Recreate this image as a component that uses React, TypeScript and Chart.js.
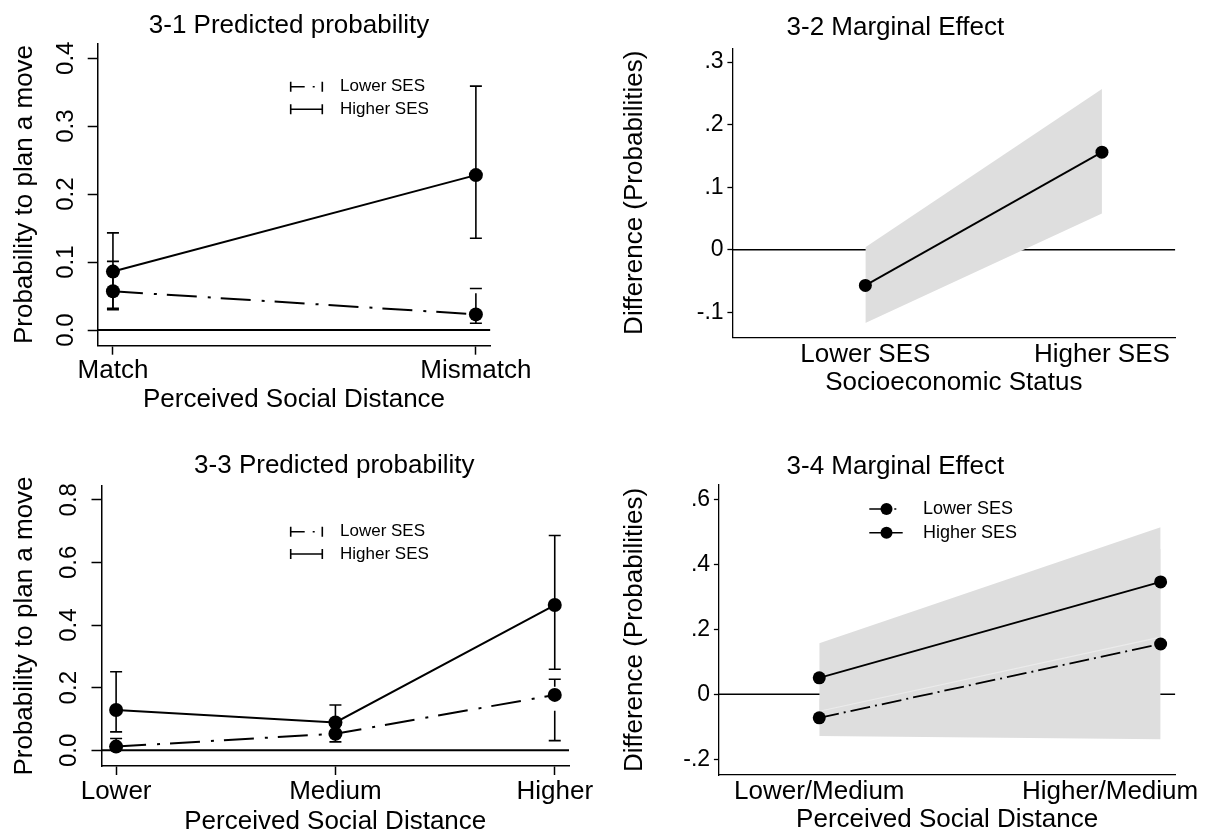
import React, { useEffect, useRef } from 'react';
import { Chart, registerables } from 'chart.js';

Chart.register(...registerables);

const FONT = "'Liberation Sans', Arial, Helvetica, sans-serif";
const BLACK = '#000000';
const BAND = '#dedede';

// ---------------- data ----------------
const seriesLabels = ['Lower SES', 'Higher SES'];

// 3-1
const p1Title = '3-1 Predicted probability';
const p1XTitle = 'Perceived Social Distance';
const p1YTitle = 'Probability to plan a move';
const p1Categories = ['Match', 'Mismatch'];
const p1YTicks = [0, 0.1, 0.2, 0.3, 0.4];
const p1Lower = [0.057, 0.023];
const p1LowerLo = [0.032, 0.01];
const p1LowerHi = [0.101, 0.061];
const p1Higher = [0.086, 0.228];
const p1HigherLo = [0.03, 0.135];
const p1HigherHi = [0.143, 0.359];

// 3-2
const p2Title = '3-2 Marginal Effect';
const p2XTitle = 'Socioeconomic Status';
const p2YTitle = 'Difference (Probabilities)';
const p2Categories = ['Lower SES', 'Higher SES'];
const p2YTicks = [-0.1, 0, 0.1, 0.2, 0.3];
const p2Effect = [-0.057, 0.156];
const p2EffectLo = [-0.117, 0.058];
const p2EffectHi = [0.004, 0.257];

// 3-3
const p3Title = '3-3 Predicted probability';
const p3XTitle = 'Perceived Social Distance';
const p3YTitle = 'Probability to plan a move';
const p3Categories = ['Lower', 'Medium', 'Higher'];
const p3YTicks = [0, 0.2, 0.4, 0.6, 0.8];
const p3Lower = [0.012, 0.053, 0.177];
const p3LowerLo = [0.002, 0.027, 0.031];
const p3LowerHi = [0.038, 0.08, 0.227];
const p3Higher = [0.129, 0.089, 0.464];
const p3HigherLo = [0.059, 0.05, 0.259];
const p3HigherHi = [0.251, 0.145, 0.686];

// 3-4
const p4Title = '3-4 Marginal Effect';
const p4XTitle = 'Perceived Social Distance';
const p4YTitle = 'Difference (Probabilities)';
const p4Categories = ['Lower/Medium', 'Higher/Medium'];
const p4YTicks = [-0.2, 0, 0.2, 0.4, 0.6];
const p4Lower = [-0.072, 0.155];
const p4LowerLo = [-0.128, -0.138];
const p4LowerHi = [-0.014, 0.448];
const p4Higher = [0.051, 0.346];
const p4HigherLo = [-0.052, 0.176];
const p4HigherHi = [0.157, 0.514];

// ---------------- styles / layout ----------------
const DASH_R = [30, 11, 3, 10];
const DASH_R_LEGEND = [14, 8, 2, 8];
const DASH_S = [20, 5, 2, 5];

type Geom = {
  left: number; top: number; width: number; height: number;
  area: { left: number; right: number; top: number; bottom: number };
  xMin: number; xMax: number; yMin: number; yMax: number;
  title: [number, number];
  xTickLen: number; xTickPad: number; xTitlePad: number;
  yTickLen: number; yTickPad: number; yTitlePad: number;
  yTickSize: number; rotateY: boolean; axisWidth: number;
  lastLabelPad: number; // trailing no-break spaces keeping the last label inside the frame
};

const g1: Geom = {
  left: 0, top: 0, width: 560, height: 416,
  area: { left: 97.7, right: 490.4, top: 43.3, bottom: 345.7 },
  xMin: -0.042, xMax: 1.04, yMin: -0.0231, yMax: 0.422,
  title: [289, 26],
  xTickLen: 9, xTickPad: 0.7, xTitlePad: 0.4,
  yTickLen: 10, yTickPad: 5, yTitlePad: 9.4,
  yTickSize: 24, rotateY: true, axisWidth: 1.5, lastLabelPad: 0,
};
const g2: Geom = {
  left: 600, top: 0, width: 720, height: 400,
  area: { left: 132.4, right: 575.3, top: 48.3, bottom: 337.3 },
  xMin: -0.562, xMax: 1.31, yMin: -0.14, yMax: 0.322,
  title: [295.4, 28],
  xTickLen: 0, xTickPad: 2.1, xTitlePad: 1.4,
  yTickLen: 5, yTickPad: 3.8, yTitlePad: 19.1,
  yTickSize: 23, rotateY: false, axisWidth: 1.3, lastLabelPad: 0,
};
const g3: Geom = {
  left: 0, top: 420, width: 600, height: 418,
  area: { left: 101.5, right: 569, top: 66, bottom: 346 },
  xMin: -0.0666, xMax: 2.065, yMin: -0.05, yMax: 0.844,
  title: [334.3, 46],
  xTickLen: 9, xTickPad: 1.1, xTitlePad: 0.7,
  yTickLen: 10, yTickPad: 5, yTitlePad: 9.4,
  yTickSize: 24, rotateY: true, axisWidth: 1.5, lastLabelPad: 0,
};
const g4: Geom = {
  left: 600, top: 420, width: 720, height: 418,
  area: { left: 118.9, right: 575.3, top: 65, bottom: 355 },
  xMin: -0.294, xMax: 1.043, yMin: -0.248, yMax: 0.644,
  title: [295.4, 46.7],
  xTickLen: 0, xTickPad: 1.1, xTitlePad: 2.4,
  yTickLen: 5, yTickPad: 3.8, yTitlePad: 19.1,
  yTickSize: 23, rotateY: false, axisWidth: 1.3, lastLabelPad: 14,
};

// ---------------- helpers ----------------
const pts = (vals: number[]) => vals.map((y, i) => ({ x: i, y }));

const fmtProb = (v: number) => v.toFixed(1);
const fmtStata = (v: number) => {
  if (Math.abs(v) < 1e-9) return '0';
  const s = Math.abs(v).toFixed(1).replace(/^0/, '');
  return (v < 0 ? '-' : '') + s;
};

function zeroLine(g: Geom, width: number) {
  return {
    label: 'zero',
    data: [{ x: g.xMin, y: 0 }, { x: g.xMax, y: 0 }],
    borderColor: BLACK, borderWidth: width, pointRadius: 0, fill: false, order: 20,
  };
}

function errorBars(lo: number[], hi: number[], dash: number[], width: number, capR: number) {
  return lo.map((l, i) => ({
    label: 'ci',
    data: [{ x: i, y: l }, { x: i, y: hi[i] }],
    borderColor: BLACK, borderWidth: width, borderDash: dash,
    pointStyle: 'line', pointRadius: capR, pointBorderWidth: width,
    pointBorderColor: BLACK, pointBackgroundColor: BLACK,
    fill: false, order: 5,
  }));
}

function series(label: string, vals: number[], dash: number[], width: number, r: number, order: number) {
  return {
    label, data: pts(vals),
    borderColor: BLACK, borderWidth: width, borderDash: dash,
    pointRadius: r, pointBackgroundColor: BLACK, pointBorderColor: BLACK, pointBorderWidth: 0,
    fill: false, order,
  };
}

function band(lo: number[], hi: number[], order: number, edge: string | null) {
  return [
    {
      label: 'bandHi', data: pts(hi), borderColor: 'rgba(0,0,0,0)', borderWidth: 1,
      backgroundColor: BAND, fill: '+1', pointRadius: 0, order,
    },
    {
      label: 'bandLo', data: pts(lo), borderColor: edge ?? 'rgba(0,0,0,0)', borderWidth: 1.2,
      fill: false, pointRadius: 0, order: order - 1,
    },
  ];
}

function titlePlugin(text: string, g: Geom) {
  return {
    id: 'panelTitle',
    afterDraw(chart: any) {
      const ctx = chart.ctx;
      ctx.save();
      ctx.font = `26px ${FONT}`;
      ctx.fillStyle = BLACK;
      ctx.textAlign = 'center';
      ctx.textBaseline = 'middle';
      ctx.fillText(text, g.title[0], g.title[1]);
      ctx.restore();
    },
  };
}

function errorBarLegend(labels: string[], dashes: number[][], x0: number, x1: number, textX: number, y0: number, dy: number) {
  return {
    id: 'ebLegend',
    afterDraw(chart: any) {
      const ctx = chart.ctx;
      ctx.save();
      labels.forEach((lab, i) => {
        const y = y0 + i * dy;
        ctx.strokeStyle = BLACK;
        ctx.lineWidth = 1.6;
        ctx.setLineDash([]);
        ctx.beginPath();
        ctx.moveTo(x0, y - 5); ctx.lineTo(x0, y + 5);
        ctx.moveTo(x1, y - 5); ctx.lineTo(x1, y + 5);
        ctx.stroke();
        ctx.setLineDash(dashes[i]);
        ctx.beginPath();
        ctx.moveTo(x0, y); ctx.lineTo(x1, y);
        ctx.stroke();
        ctx.setLineDash([]);
        ctx.fillStyle = BLACK;
        ctx.font = `17px ${FONT}`;
        ctx.textAlign = 'left';
        ctx.textBaseline = 'middle';
        ctx.fillText(lab, textX, y);
      });
      ctx.restore();
    },
  };
}

function markerLegend(labels: string[], dashes: number[][], x0: number, x1s: number[], dotX: number, textX: number, y0: number, dy: number) {
  return {
    id: 'mkLegend',
    afterDraw(chart: any) {
      const ctx = chart.ctx;
      ctx.save();
      labels.forEach((lab, i) => {
        const y = y0 + i * dy;
        ctx.strokeStyle = BLACK;
        ctx.lineWidth = 1.6;
        ctx.setLineDash(dashes[i]);
        ctx.beginPath();
        ctx.moveTo(x0, y); ctx.lineTo(x1s[i], y);
        ctx.stroke();
        ctx.setLineDash([]);
        ctx.fillStyle = BLACK;
        ctx.beginPath();
        ctx.arc(dotX, y, 6, 0, Math.PI * 2);
        ctx.fill();
        ctx.font = `18px ${FONT}`;
        ctx.textAlign = 'left';
        ctx.textBaseline = 'middle';
        ctx.fillText(lab, textX, y);
      });
      ctx.restore();
    },
  };
}

function makeOptions(g: Geom, categories: string[], yTicks: number[], fmt: (v: number) => string, xTitle: string, yTitle: string) {
  const axisFont = { family: FONT, size: 26 };
  const xLabel = (v: number) => {
    const i = Math.round(v);
    const base = categories[i] ?? '';
    return i === categories.length - 1 && g.lastLabelPad > 0 ? base + '\u00A0'.repeat(g.lastLabelPad) : base;
  };
  return {
    animation: false,
    responsive: false,
    devicePixelRatio: 1,
    events: [],
    layout: {
      autoPadding: false,
      padding: { left: 0, top: g.area.top, right: g.width - g.area.right, bottom: 0 },
    },
    plugins: { legend: { display: false }, title: { display: false }, tooltip: { enabled: false } },
    scales: {
      x: {
        type: 'linear', min: g.xMin, max: g.xMax,
        afterBuildTicks: (s: any) => { s.ticks = categories.map((_, i) => ({ value: i })); },
        afterFit: (s: any) => { s.height = g.height - g.area.bottom; },
        ticks: {
          autoSkip: false, maxRotation: 0, minRotation: 0, padding: g.xTickPad, color: BLACK,
          font: axisFont, callback: xLabel,
        },
        grid: {
          display: true, drawOnChartArea: false, drawTicks: g.xTickLen > 0, tickLength: g.xTickLen,
          tickWidth: g.axisWidth, tickColor: BLACK, color: BLACK,
        },
        border: { display: true, color: BLACK, width: g.axisWidth },
        title: { display: true, text: xTitle, color: BLACK, font: axisFont, padding: { top: 0, bottom: g.xTitlePad } },
      },
      y: {
        type: 'linear', min: g.yMin, max: g.yMax,
        afterBuildTicks: (s: any) => { s.ticks = yTicks.map((v) => ({ value: v })); },
        afterFit: (s: any) => { s.width = g.area.left; },
        ticks: {
          autoSkip: false, padding: g.yTickPad, color: BLACK,
          font: { family: FONT, size: g.yTickSize }, callback: (v: number) => fmt(v),
          ...(g.rotateY ? { minRotation: 90, maxRotation: 90, crossAlign: 'center' } : { crossAlign: 'near' }),
        },
        grid: {
          display: true, drawOnChartArea: false, drawTicks: true, tickLength: g.yTickLen,
          tickWidth: g.axisWidth, tickColor: BLACK, color: BLACK,
        },
        border: { display: true, color: BLACK, width: g.axisWidth },
        title: { display: true, text: yTitle, color: BLACK, font: axisFont, padding: { top: g.yTitlePad, bottom: 0 } },
      },
    },
  };
}

// ---------------- chart configs ----------------
function config1() {
  return {
    type: 'line',
    data: {
      datasets: [
        series(seriesLabels[1], p1Higher, [], 2, 7, 1),
        series(seriesLabels[0], p1Lower, DASH_R, 2, 7, 2),
        ...errorBars(p1HigherLo, p1HigherHi, [], 1.6, 6),
        ...errorBars(p1LowerLo, p1LowerHi, DASH_R, 1.6, 6),
        zeroLine(g1, 2),
      ],
    },
    options: makeOptions(g1, p1Categories, p1YTicks, fmtProb, p1XTitle, p1YTitle),
    plugins: [titlePlugin(p1Title, g1), errorBarLegend(seriesLabels, [DASH_R_LEGEND, []], 290.7, 322.3, 340, 86.7, 22.6)],
  };
}

function config2() {
  return {
    type: 'line',
    data: {
      datasets: [
        series('Effect', p2Effect, [], 1.8, 6.5, 1),
        ...band(p2EffectLo, p2EffectHi, 9, null),
        zeroLine(g2, 1.5),
      ],
    },
    options: makeOptions(g2, p2Categories, p2YTicks, fmtStata, p2XTitle, p2YTitle),
    plugins: [titlePlugin(p2Title, g2)],
  };
}

function config3() {
  return {
    type: 'line',
    data: {
      datasets: [
        series(seriesLabels[1], p3Higher, [], 2, 7, 1),
        series(seriesLabels[0], p3Lower, DASH_R, 2, 7, 2),
        ...errorBars(p3HigherLo, p3HigherHi, [], 1.6, 6),
        ...errorBars(p3LowerLo, p3LowerHi, DASH_R, 1.6, 6),
        zeroLine(g3, 2),
      ],
    },
    options: makeOptions(g3, p3Categories, p3YTicks, fmtProb, p3XTitle, p3YTitle),
    plugins: [titlePlugin(p3Title, g3), errorBarLegend(seriesLabels, [DASH_R_LEGEND, []], 290.7, 322.3, 340, 111.7, 22.3)],
  };
}

function config4() {
  return {
    type: 'line',
    data: {
      datasets: [
        series(seriesLabels[1], p4Higher, [], 1.8, 6.5, 1),
        series(seriesLabels[0], p4Lower, DASH_S, 1.8, 6.5, 2),
        ...band(p4HigherLo, p4HigherHi, 8, '#ebebeb'),
        ...band(p4LowerLo, p4LowerHi, 11, null),
        zeroLine(g4, 1.5),
      ],
    },
    options: makeOptions(g4, p4Categories, p4YTicks, fmtStata, p4XTitle, p4YTitle),
    plugins: [titlePlugin(p4Title, g4), markerLegend(seriesLabels, [DASH_S, []], 269.3, [298, 302.7], 286.5, 323, 89, 23.7)],
  };
}

function Panel({ g, make }: { g: Geom; make: () => any }) {
  const ref = useRef<HTMLCanvasElement>(null);
  useEffect(() => {
    const chart = new Chart(ref.current as HTMLCanvasElement, make());
    return () => chart.destroy();
  }, []);
  return (
    <canvas
      ref={ref}
      width={g.width}
      height={g.height}
      style={{ position: 'absolute', left: g.left, top: g.top, width: g.width, height: g.height }}
    />
  );
}

export default function App() {
  return (
    <div style={{ position: 'absolute', left: 0, top: 0, width: 1207, height: 832, overflow: 'hidden', background: '#ffffff' }}>
      <Panel g={g1} make={config1} />
      <Panel g={g2} make={config2} />
      <Panel g={g3} make={config3} />
      <Panel g={g4} make={config4} />
    </div>
  );
}
